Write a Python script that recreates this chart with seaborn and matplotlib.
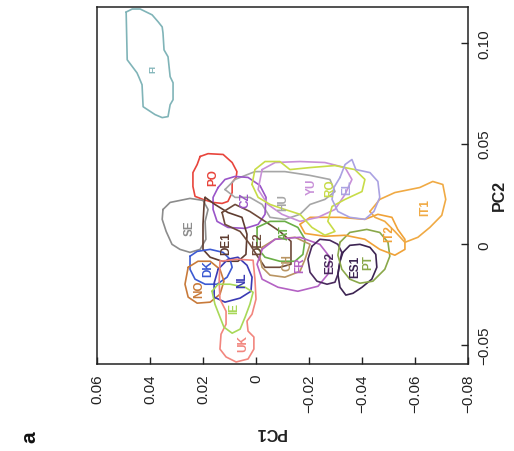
import numpy as np
import pandas as pd
import matplotlib
matplotlib.use("Agg")
import matplotlib.pyplot as plt
import seaborn as sns

# ---- data: outline vertices (PC1, PC2) of each population's region ----
FI = [(0.0490, 0.1153), (0.0467, 0.1168), (0.0437, 0.1168), (0.0392, 0.1139), (0.0369, 0.1104),
      (0.0354, 0.1079), (0.0351, 0.1049), (0.0347, 0.0965), (0.0332, 0.0931), (0.0324, 0.0832),
      (0.0313, 0.0802), (0.0313, 0.0718), (0.0324, 0.0693), (0.0332, 0.0634), (0.0354, 0.0629),
      (0.0381, 0.0644), (0.0426, 0.0683), (0.0430, 0.0792), (0.0441, 0.0827), (0.0449, 0.0851),
      (0.0486, 0.0916)]
PO = [(0.0211, 0.0436), (0.0181, 0.0450), (0.0124, 0.0446), (0.0090, 0.0406), (0.0072, 0.0361),
      (0.0075, 0.0332), (0.0090, 0.0307), (0.0090, 0.0257), (0.0106, 0.0213), (0.0128, 0.0203),
      (0.0162, 0.0208), (0.0200, 0.0223), (0.0230, 0.0238), (0.0238, 0.0287), (0.0238, 0.0356),
      (0.0222, 0.0396)]
SE = [(0.0351, 0.0173), (0.0324, 0.0208), (0.0249, 0.0228), (0.0200, 0.0218), (0.0181, 0.0173),
      (0.0192, 0.0114), (0.0189, 0.0025), (0.0211, -0.0025), (0.0249, -0.0040), (0.0287, -0.0025),
      (0.0317, 0.0000), (0.0339, 0.0064), (0.0354, 0.0124)]
HU = [(0.0117, 0.0272), (0.0079, 0.0322), (0.0004, 0.0361), (-0.0109, 0.0361), (-0.0204, 0.0342),
      (-0.0279, 0.0322), (-0.0298, 0.0262), (-0.0260, 0.0223), (-0.0204, 0.0198), (-0.0166, 0.0149),
      (-0.0109, 0.0124), (-0.0053, 0.0134), (-0.0023, 0.0198), (0.0023, 0.0233), (0.0079, 0.0233)]
CZ = [(0.0143, 0.0282), (0.0117, 0.0322), (0.0079, 0.0337), (0.0030, 0.0332), (-0.0015, 0.0292),
      (-0.0038, 0.0233), (-0.0034, 0.0149), (-0.0008, 0.0099), (0.0041, 0.0079), (0.0106, 0.0084),
      (0.0147, 0.0114), (0.0162, 0.0173), (0.0162, 0.0233)]
DE1 = [(0.0192, 0.0233), (0.0155, 0.0198), (0.0106, 0.0158), (0.0053, 0.0134), (0.0034, 0.0050),
       (0.0038, -0.0050), (0.0068, -0.0084), (0.0128, -0.0084), (0.0173, -0.0064), (0.0200, -0.0025),
       (0.0200, 0.0099), (0.0196, 0.0198)]
DE2 = [(0.0128, 0.0158), (0.0079, 0.0198), (0.0023, 0.0163), (-0.0034, 0.0114), (-0.0090, 0.0064),
       (-0.0132, 0.0015), (-0.0132, -0.0099), (-0.0090, -0.0114), (-0.0034, -0.0114), (-0.0008, -0.0064),
       (0.0023, 0.0000), (0.0060, 0.0064), (0.0117, 0.0099)]
AT = [(-0.0004, 0.0084), (-0.0053, 0.0114), (-0.0109, 0.0114), (-0.0158, 0.0084), (-0.0185, 0.0025),
      (-0.0177, -0.0050), (-0.0147, -0.0084), (-0.0090, -0.0084), (-0.0034, -0.0064), (-0.0004, -0.0015)]
CH = [(-0.0023, -0.0015), (-0.0072, 0.0025), (-0.0147, 0.0035), (-0.0204, 0.0000), (-0.0185, -0.0074),
      (-0.0166, -0.0134), (-0.0109, -0.0163), (-0.0053, -0.0153), (-0.0023, -0.0114), (-0.0015, -0.0064)]
FR = [(-0.0023, -0.0025), (-0.0072, 0.0025), (-0.0166, 0.0035), (-0.0241, 0.0000), (-0.0279, -0.0064),
      (-0.0271, -0.0149), (-0.0234, -0.0208), (-0.0158, -0.0233), (-0.0083, -0.0213), (-0.0023, -0.0173),
      (-0.0004, -0.0099)]
ES2 = [(-0.0211, -0.0010), (-0.0241, 0.0025), (-0.0279, 0.0020), (-0.0309, 0.0000), (-0.0324, -0.0040),
       (-0.0317, -0.0084), (-0.0309, -0.0149), (-0.0298, -0.0188), (-0.0268, -0.0198), (-0.0230, -0.0183),
       (-0.0204, -0.0139), (-0.0196, -0.0074)]
ES1 = [(-0.0328, -0.0040), (-0.0354, -0.0005), (-0.0392, 0.0000), (-0.0430, -0.0015), (-0.0452, -0.0050),
       (-0.0456, -0.0114), (-0.0437, -0.0173), (-0.0400, -0.0213), (-0.0366, -0.0243), (-0.0339, -0.0252),
       (-0.0317, -0.0213), (-0.0309, -0.0149), (-0.0317, -0.0084)]
PT = [(-0.0317, 0.0010), (-0.0354, 0.0059), (-0.0418, 0.0074), (-0.0467, 0.0059), (-0.0498, 0.0010),
      (-0.0505, -0.0059), (-0.0486, -0.0124), (-0.0441, -0.0183), (-0.0392, -0.0193), (-0.0354, -0.0173),
      (-0.0324, -0.0124), (-0.0309, -0.0054)]
IT2 = [(-0.0166, 0.0099), (-0.0204, 0.0134), (-0.0317, 0.0134), (-0.0411, 0.0124), (-0.0460, 0.0149),
       (-0.0513, 0.0134), (-0.0535, 0.0074), (-0.0562, 0.0025), (-0.0562, -0.0025), (-0.0524, -0.0054),
       (-0.0467, -0.0025), (-0.0411, 0.0025), (-0.0336, 0.0045), (-0.0260, 0.0040), (-0.0185, 0.0054)]
IT1 = [(-0.0430, 0.0163), (-0.0467, 0.0223), (-0.0524, 0.0257), (-0.0618, 0.0282), (-0.0667, 0.0312),
       (-0.0705, 0.0297), (-0.0716, 0.0223), (-0.0701, 0.0144), (-0.0656, 0.0084), (-0.0611, 0.0035),
       (-0.0562, 0.0010), (-0.0524, 0.0064), (-0.0486, 0.0114), (-0.0449, 0.0134)]
YU = [(-0.0023, 0.0371), (-0.0072, 0.0406), (-0.0166, 0.0411), (-0.0260, 0.0406), (-0.0336, 0.0381),
      (-0.0362, 0.0322), (-0.0336, 0.0248), (-0.0298, 0.0173), (-0.0234, 0.0134), (-0.0166, 0.0114),
      (-0.0098, 0.0149), (-0.0045, 0.0198), (-0.0008, 0.0272)]
RO = [(0.0015, 0.0297), (0.0004, 0.0371), (-0.0034, 0.0411), (-0.0090, 0.0411), (-0.0128, 0.0371),
      (-0.0204, 0.0381), (-0.0298, 0.0391), (-0.0373, 0.0371), (-0.0411, 0.0322), (-0.0400, 0.0262),
      (-0.0336, 0.0223), (-0.0287, 0.0188), (-0.0271, 0.0114), (-0.0298, 0.0064), (-0.0260, 0.0045),
      (-0.0211, 0.0084), (-0.0166, 0.0149), (-0.0109, 0.0173), (-0.0053, 0.0198), (-0.0008, 0.0233)]
EL = [(-0.0317, 0.0332), (-0.0336, 0.0396), (-0.0362, 0.0421), (-0.0377, 0.0371), (-0.0430, 0.0356),
      (-0.0460, 0.0312), (-0.0467, 0.0233), (-0.0445, 0.0163), (-0.0411, 0.0124), (-0.0354, 0.0134),
      (-0.0309, 0.0163), (-0.0287, 0.0223), (-0.0294, 0.0282)]
DK = [(0.0249, -0.0059), (0.0222, -0.0035), (0.0173, -0.0025), (0.0124, -0.0040), (0.0098, -0.0074),
      (0.0090, -0.0114), (0.0109, -0.0163), (0.0147, -0.0198), (0.0192, -0.0198), (0.0230, -0.0173),
      (0.0249, -0.0124)]
NO = [(0.0256, -0.0114), (0.0219, -0.0084), (0.0173, -0.0084), (0.0136, -0.0124), (0.0121, -0.0183),
      (0.0136, -0.0248), (0.0173, -0.0287), (0.0222, -0.0292), (0.0256, -0.0262), (0.0268, -0.0198)]
NL = [(0.0143, -0.0124), (0.0106, -0.0074), (0.0068, -0.0064), (0.0034, -0.0104), (0.0015, -0.0163),
      (0.0019, -0.0233), (0.0060, -0.0267), (0.0117, -0.0287), (0.0158, -0.0262), (0.0158, -0.0193)]
UK = [(0.0136, -0.0084), (0.0072, -0.0074), (0.0011, -0.0079), (0.0004, -0.0173), (0.0000, -0.0272),
      (0.0015, -0.0347), (0.0034, -0.0381), (0.0030, -0.0431), (0.0008, -0.0460), (0.0008, -0.0520),
      (0.0030, -0.0569), (0.0075, -0.0584), (0.0113, -0.0559), (0.0136, -0.0520), (0.0132, -0.0446),
      (0.0113, -0.0396), (0.0113, -0.0332), (0.0136, -0.0272), (0.0139, -0.0183)]
IE = [(0.0166, -0.0233), (0.0143, -0.0198), (0.0098, -0.0198), (0.0041, -0.0213), (0.0011, -0.0238),
      (0.0023, -0.0297), (0.0041, -0.0361), (0.0060, -0.0421), (0.0090, -0.0441), (0.0121, -0.0411),
      (0.0136, -0.0361), (0.0155, -0.0297)]

populations = ["FI", "PO", "SE", "HU", "CZ", "DE1", "DE2", "AT", "CH", "FR", "ES2", "ES1", "PT",
               "IT2", "IT1", "YU", "RO", "EL", "DK", "NO", "NL", "UK", "IE"]
outlines = [FI, PO, SE, HU, CZ, DE1, DE2, AT, CH, FR, ES2, ES1, PT,
            IT2, IT1, YU, RO, EL, DK, NO, NL, UK, IE]
label_pc1 = [0.0388, 0.0162, 0.0249, -0.0102, 0.0041, 0.0113, -0.0008, -0.0109, -0.0117, -0.0166,
             -0.0279, -0.0373, -0.0422, -0.0501, -0.0637, -0.0211, -0.0279, -0.0343, 0.0181, 0.0215,
             0.0053, 0.0049, 0.0083]
label_pc2 = [0.0876, 0.0337, 0.0084, 0.0213, 0.0223, 0.0010, 0.0010, 0.0064, -0.0084, -0.0099,
             -0.0089, -0.0109, -0.0084, 0.0059, 0.0188, 0.0292, 0.0282, 0.0287, -0.0114, -0.0218,
             -0.0173, -0.0485, -0.0312]
colors = ["#80b4b8", "#e8453c", "#8c8c8c", "#a6a6a6", "#9a55c8", "#5e3c30", "#6e4a3a", "#6aae46",
          "#b99462", "#b462c4", "#4a2a5e", "#3c2452", "#8aa84a", "#f0a238", "#f0aa44", "#c890d8",
          "#c8dc48", "#aaa2e2", "#3c5ad2", "#c87a3a", "#3a3ab4", "#f2867e", "#a8d858"]

x_ticks = [0.06, 0.04, 0.02, 0, -0.02, -0.04, -0.06, -0.08]
x_ticklabels = ["0.06", "0.04", "0.02", "0", "\u22120.02", "\u22120.04", "\u22120.06", "\u22120.08"]
y_ticks = [-0.05, 0, 0.05, 0.10]
y_ticklabels = ["\u22120.05", "0", "0.05", "0.10"]

# ---- build long table (closing each outline) ----
rows = []
for name, pts in zip(populations, outlines):
    closed = list(pts) + [pts[0]]
    for i, (a, b) in enumerate(closed):
        rows.append({"pop": name, "order": i, "PC1": a, "PC2": b})
df = pd.DataFrame(rows)

sns.set_theme(style="white")
plt.rcParams["font.family"] = ["Liberation Sans", "DejaVu Sans"]

fig = plt.figure(figsize=(5.14, 4.52), dpi=100)
ax = fig.add_axes([97 / 514, 1 - 365 / 452, 371 / 514, 357 / 452])

sns.lineplot(data=df, x="PC1", y="PC2", hue="pop", hue_order=populations,
             palette=colors, estimator=None, sort=False, legend=False,
             linewidth=1.2, ax=ax)

for name, lx, ly, c in zip(populations, label_pc1, label_pc2, colors):
    ax.text(lx, ly, name, color=c, fontsize=6.5 if name == "FI" else 8.5,
            fontweight="bold", rotation=90, ha="center", va="center")

ax.set_xlim(0.06, -0.08)
ax.set_ylim(-0.0594, 0.1178)
ax.set_xticks(x_ticks)
ax.set_xticklabels(x_ticklabels, rotation=90, fontsize=11, color="#222222")
ax.set_yticks(y_ticks)
ax.set_yticklabels(y_ticklabels, rotation=90, fontsize=11, color="#222222", va="center")
ax.yaxis.tick_right()
ax.tick_params(axis="both", direction="in", length=5, width=1.0, color="#222222")
ax.tick_params(axis="x", pad=7, bottom=True, top=False)
ax.tick_params(axis="y", pad=7, right=True, left=False, labelright=True, labelleft=False)
for s in ax.spines.values():
    s.set_color("#222222")
    s.set_linewidth(1.1)

ax.set_xlabel("")
ax.set_ylabel("")
ax.text(0.466, -0.188, "PC1", transform=ax.transAxes, rotation=180, fontsize=11.5,
        fontweight="bold", ha="center", va="center", color="#222222")
ax.text(1.085, 0.476, "PC2", transform=ax.transAxes, rotation=90, fontsize=11.5,
        fontweight="bold", ha="center", va="center", color="#222222")
fig.text(30 / 514, 1 - 437 / 452, "a", rotation=90, fontsize=15, fontweight="bold",
         ha="center", va="center", color="#111111")

fig.savefig("out.png", dpi=100)
